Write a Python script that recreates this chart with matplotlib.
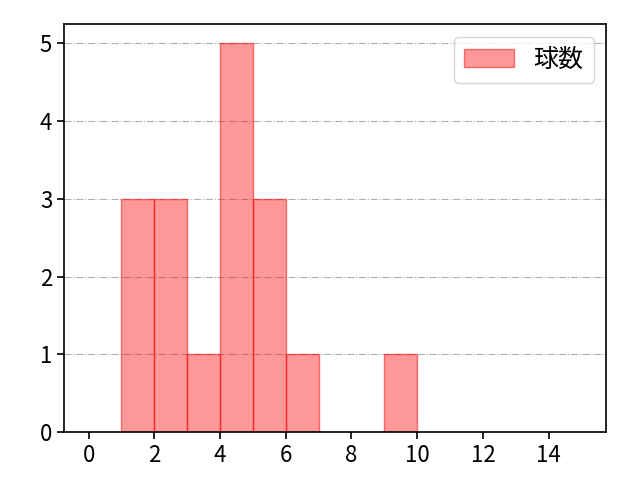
import matplotlib
matplotlib.use("Agg")
import matplotlib.pyplot as plt

plt.rcParams['font.family'] = ['Noto Sans CJK JP', 'DejaVu Sans']

bin_left = [1, 2, 3, 4, 5, 6, 7, 8, 9]
counts = [3, 3, 1, 5, 3, 1, 0, 0, 1]
label = "球数"
xticks = [0, 2, 4, 6, 8, 10, 12, 14]

fig = plt.figure(figsize=(6.4, 4.8), dpi=100)
ax = fig.add_axes([0.1, 0.1, 0.847, 0.85])
ax.hist(bin_left, bins=list(range(1, 11)), weights=counts,
        color=(1.0, 0.0, 0.0, 0.4), edgecolor=(1.0, 0.0, 0.0, 0.5),
        linewidth=1.0, label=label)
ax.set_xlim(-0.75, 15.75)
ax.set_ylim(0, 5.25)
ax.set_xticks(xticks)
ax.set_yticks([0, 1, 2, 3, 4, 5])
ax.grid(axis='y', linestyle='-.', color='#b0b0b0', linewidth=0.8)
ax.set_axisbelow(True)
for s in ax.spines.values():
    s.set_linewidth(1.2)
ax.tick_params(labelsize=16, width=1.2, length=5)
ax.legend(loc='upper right', fontsize=18)
fig.savefig("out.png", dpi=100)
